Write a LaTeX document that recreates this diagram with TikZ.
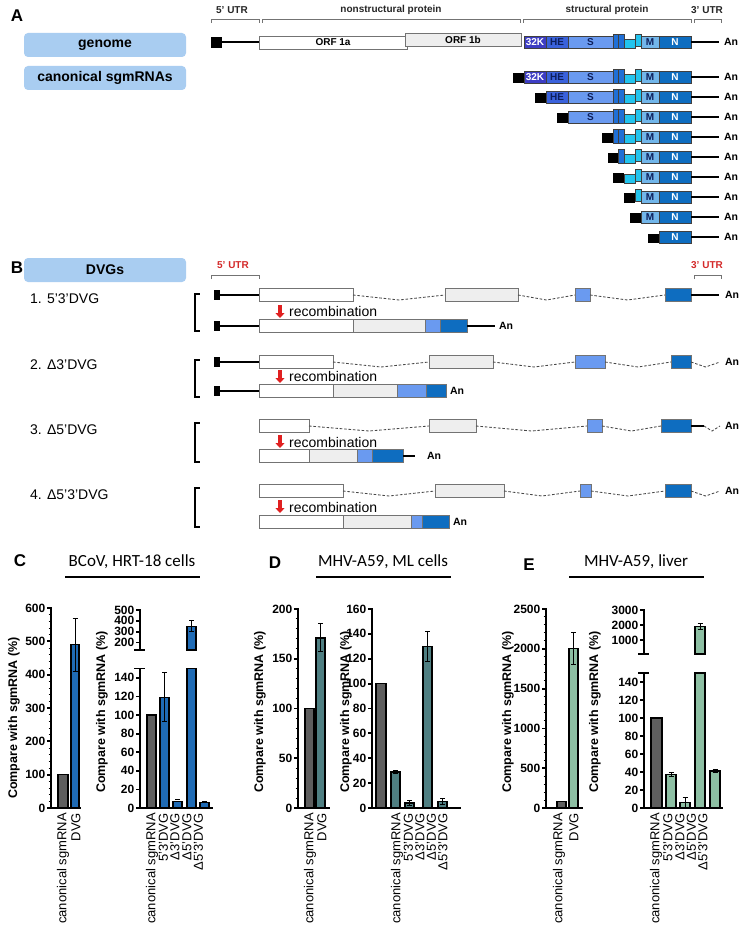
\documentclass[tikz,border=0pt]{standalone}
\usepackage{fontspec}
\setmainfont{Liberation Sans}
\newfontfamily\calfont{Carlito}
\usetikzlibrary{arrows.meta}
\definecolor{k32}{HTML}{3D3DC4}
\definecolor{kHE}{HTML}{3A62DC}
\definecolor{kS}{HTML}{6A9AF0}
\definecolor{kbar}{HTML}{1F6FD6}
\definecolor{kcy}{HTML}{22C4EE}
\definecolor{kM}{HTML}{72B6EA}
\definecolor{kN}{HTML}{0E6DC0}
\definecolor{knavy}{HTML}{0D1F5C}
\definecolor{kbox}{HTML}{A9CDF1}
\definecolor{kgrayfill}{HTML}{EEEEEE}
\definecolor{kred}{HTML}{E02020}
\definecolor{utrred}{HTML}{D42A2A}
\definecolor{barC}{HTML}{1F6BB5}
\definecolor{barD}{HTML}{4F7F82}
\definecolor{barE}{HTML}{8DBFA3}
\definecolor{barG}{HTML}{5E5E5E}

\newcommand\strow[2]{%
 \ifnum#2<2 \draw[gline,fill=k32] (524,#1-6) rectangle (546,#1+6); \node[gtxt,text=white] (k32-#1) at (535,#1) {32K};\fi
 \ifnum#2<3 \draw[gline,fill=kHE] (546,#1-6) rectangle (568,#1+6); \node[gtxt,text=knavy] (kHE-#1) at (557,#1) {HE};\fi
 \ifnum#2<4 \draw[gline,fill=kS] (568,#1-6) rectangle (613,#1+6); \node[gtxt,text=knavy] (kS-#1) at (590.5,#1) {S};\fi
 \ifnum#2<5 \draw[gline,fill=kbar] (613,#1-8) rectangle (618.5,#1+6);\fi
 \ifnum#2<6 \draw[gline,fill=kbar] (618.5,#1-8) rectangle (624,#1+6);\fi
 \ifnum#2<7 \draw[gline,fill=kcy] (624,#1-3) rectangle (635,#1+6);\fi
 \ifnum#2<8 \draw[gline,fill=kcy] (635,#1-8) rectangle (641,#1+4);\fi
 \ifnum#2<9 \draw[gline,fill=kM] (641,#1-6) rectangle (659,#1+6); \node[gtxt,text=knavy] (kM-#1) at (650,#1) {M};\fi
 \draw[gline,fill=kN] (659,#1-6) rectangle (691,#1+6); \node[gtxt,text=white] (kN-#1) at (675,#1) {N};
 \draw[rna] (691,#1) -- (719,#1);
 \node[antxt] (an-#1) at (731,#1) {An};
}
\newcommand\blk[3]{\fill (#1,#3-3.5) rectangle (#2,#3+6);}
\newcommand\dbox[4]{\draw[orfline,fill=#4] (#1,#3-6.5) rectangle (#2,#3+6.5);}
\newcommand\dvee[3]{\draw[dline] (#1,#3) -- ({(#1+#2)/2},#3+5) -- (#2,#3);}
\newcommand\fivecap[1]{\fill (214,#1-5) rectangle (220,#1+5); \draw[rna] (220,#1) -- (259,#1);}
\newcommand\lbrk[2]{\draw[line width=1.3pt] (199.5,#1) -- (195,#1) -- (195,#2) -- (199.5,#2);}
\newcommand\cbar[4]{\draw[barst,fill=#4] (#1,808) rectangle (#2,#3);}
\newcommand\errb[3]{\draw[eb] (#1,#2) -- (#1,#3); \draw[eb] (#1-2.5,#3) -- (#1+2.5,#3); \draw[eb] (#1-2.5,#2) -- (#1+2.5,#2);}

\begin{document}
\begin{tikzpicture}[x=1pt,y=-1pt,
 gline/.style={draw=black!75,line width=0.6pt},
 orfline/.style={draw=black!55,line width=0.7pt},
 rna/.style={line width=1.6pt},
 dline/.style={draw=black!72,line width=0.85pt,dash pattern=on 2.6pt off 1.8pt},
 gtxt/.style={font=\bfseries\fontsize{10}{10}\selectfont,inner sep=0pt},
 antxt/.style={font=\bfseries\fontsize{10.5}{10.5}\selectfont,inner sep=0pt},
 hdr/.style={font=\bfseries\fontsize{10}{10}\selectfont,inner sep=0pt,text=black!85},
 brk/.style={draw=black!55,line width=0.8pt},
 namebox/.style={fill=kbox,rounded corners=4pt,minimum width=162pt,minimum height=24pt,font=\bfseries\fontsize{14}{14}\selectfont,inner sep=0pt},
 panel/.style={font=\bfseries\fontsize{17}{17}\selectfont,inner sep=0pt},
 dvgl/.style={font=\fontsize{14}{14}\selectfont,inner sep=0pt,anchor=west},
 recarrow/.style={kred,line width=3.6pt,-{Triangle[width=9pt,length=5pt]}},
 ax/.style={line width=1.8pt},
 barst/.style={draw=black,line width=1.3pt},
 eb/.style={line width=1pt},
 tl/.style={font=\bfseries\fontsize{12}{12}\selectfont,inner sep=0pt,anchor=east},
 xl/.style={font=\fontsize{13}{13}\selectfont,inner sep=0pt,rotate=90,anchor=east},
 ylab/.style={font=\bfseries\fontsize{12.5}{12.5}\selectfont,inner sep=0pt,rotate=90},
 ttl/.style={font=\calfont\fontsize{17}{17}\selectfont,inner sep=0pt}]
\useasboundingbox (0,0) rectangle (744,941);
\fill[white] (0,0) rectangle (744,941);

%% ---------- Panel A ----------
\node[panel] (pA) at (17,16) {A};
\node[hdr] (h5) at (232,10) {5’ UTR};
\node[hdr] (hns) at (391,10) {nonstructural protein};
\node[hdr] (hs) at (607,10) {structural protein};
\node[hdr] (h3) at (707,10) {3’ UTR};
\draw[brk] (211,23) -- (211,19) -- (259,19) -- (259,23);
\draw[brk] (262,23) -- (262,19) -- (520,19) -- (520,23);
\draw[brk] (523,23) -- (523,19) -- (691,19) -- (691,23);
\draw[brk] (694,23) -- (694,19) -- (721,19) -- (721,23);

\node[namebox] (genome) at (105,45) {genome};
\node[namebox] (canon) at (105,78) {canonical sgmRNAs};

% genome
\fill (211,37) rectangle (222,48);
\draw[rna] (222,42) -- (259,42);
\draw[orfline,fill=white] (259,36) rectangle (407,49);
\node[gtxt] (orf1a) at (333,42.5) {ORF 1a};
\draw[orfline,fill=kgrayfill] (405,33) rectangle (521,46);
\node[gtxt] (orf1b) at (463,39.5) {ORF 1b};
\strow{42}{1}

% sgmRNAs
\blk{513}{524}{77}\strow{77}{1}
\blk{535}{546}{97}\strow{97}{2}
\blk{557}{568}{117}\strow{117}{3}
\blk{602}{613}{137}\strow{137}{4}
\blk{607.5}{618.5}{157}\strow{157}{5}
\blk{613}{624}{177}\strow{177}{6}
\blk{624}{635}{197}\strow{197}{7}
\blk{630}{641}{217}\strow{217}{8}
\blk{648}{659}{237}\strow{237}{9}

%% ---------- Panel B ----------
\node[panel] (pB) at (17,268) {B};
\node[namebox] (dvgs) at (105,270) {DVGs};
\node[hdr,text=utrred] (r5) at (233,265) {5’ UTR};
\node[hdr,text=utrred] (r3) at (707,265) {3’ UTR};
\draw[brk] (211,279) -- (211,275) -- (259,275) -- (259,279);
\draw[brk] (694,279) -- (694,275) -- (721,275) -- (721,279);

% DVG 1
\node[dvgl] (d1) at (30,299) {1. 5’3’DVG};
\lbrk{294}{331}
\fivecap{295}
\dbox{259}{353}{295}{white}\dvee{353}{445}{295}
\dbox{445}{518}{295}{kgrayfill}\dvee{518}{575}{295}
\dbox{575}{590}{295}{kS}\dvee{590}{665}{295}
\dbox{665}{691}{295}{kN}
\draw[rna] (691,295) -- (719,295);
\node[antxt] (a1t) at (732,295) {An};
\draw[recarrow] (280,305) -- (280,318);
\node[dvgl] (rec1) at (289,311.5) {recombination};
\fivecap{326}
\dbox{259}{353}{326}{white}\dbox{353}{425}{326}{kgrayfill}\dbox{425}{440}{326}{kS}\dbox{440}{467}{326}{kN}
\draw[rna] (467,326) -- (495,326);
\node[antxt] (a1b) at (506,326) {An};

% DVG 2
\node[dvgl] (d2) at (30,365) {2. Δ3’DVG};
\lbrk{360}{397}
\fivecap{362}
\dbox{259}{333}{362}{white}\dvee{333}{429}{362}
\dbox{429}{493}{362}{kgrayfill}\dvee{493}{575}{362}
\dbox{575}{605}{362}{kS}\dvee{605}{671}{362}
\dbox{671}{691}{362}{kN}\dvee{691}{720}{362}
\node[antxt] (a2t) at (732,362) {An};
\draw[recarrow] (280,370) -- (280,383);
\node[dvgl] (rec2) at (289,376.5) {recombination};
\fivecap{391}
\dbox{259}{333}{391}{white}\dbox{333}{397}{391}{kgrayfill}\dbox{397}{426}{391}{kS}\dbox{426}{446}{391}{kN}
\node[antxt] (a2b) at (457,391) {An};

% DVG 3
\node[dvgl] (d3) at (30,430) {3. Δ5’DVG};
\lbrk{423}{462}
\dbox{259}{309}{426}{white}\dvee{309}{429}{426}
\dbox{429}{476}{426}{kgrayfill}\dvee{476}{587}{426}
\dbox{587}{602}{426}{kS}\dvee{602}{661}{426}
\dbox{661}{691}{426}{kN}
\draw[rna] (691,426) -- (704,426);
\dvee{704}{720}{426}
\node[antxt] (a3t) at (732,426) {An};
\draw[recarrow] (280,435) -- (280,448);
\node[dvgl] (rec3) at (289,442) {recombination};
\dbox{259}{309}{456}{white}\dbox{309}{357}{456}{kgrayfill}\dbox{357}{372}{456}{kS}\dbox{372}{403}{456}{kN}
\draw[rna] (403,456) -- (415,456);
\node[antxt] (a3b) at (434,456) {An};

% DVG 4
\node[dvgl] (d4) at (30,495) {4. Δ5’3’DVG};
\lbrk{488}{527}
\dbox{259}{343}{491}{white}\dvee{343}{435}{491}
\dbox{435}{504}{491}{kgrayfill}\dvee{504}{580}{491}
\dbox{580}{591}{491}{kS}\dvee{591}{665}{491}
\dbox{665}{691}{491}{kN}\dvee{691}{720}{491}
\node[antxt] (a4t) at (732,491) {An};
\draw[recarrow] (280,500) -- (280,513);
\node[dvgl] (rec4) at (289,507) {recombination};
\dbox{259}{343}{521.5}{white}\dbox{343}{411}{521.5}{kgrayfill}\dbox{411}{422}{521.5}{kS}\dbox{422}{449}{521.5}{kN}
\node[antxt] (a4b) at (460,521.5) {An};

%% ---------- Panel C ----------
\node[panel] (pC) at (20,561) {C};
\node[ttl] (tC) at (132,562) {BCoV, HRT-18 cells};
\draw[line width=2pt] (65,577) -- (200,577);
% C1
\cbar{58}{68}{774.7}{barG}
\cbar{71}{79}{644.7}{barC}
\errb{75}{671.3}{618}
\foreach \v in {20,40,...,580}{\draw[line width=1pt] (48.5,808-\v/3) -- (51,808-\v/3);}
\foreach \v in {0,100,...,600}{\draw[ax] (47,808-\v/3) -- (51,808-\v/3); \node[tl] (c1t\v) at (45.5,808-\v/3) {\v};}
\draw[ax] (51,808.9) -- (51,607.1);
\draw[ax] (50.1,808) -- (81,808);
\node[ylab] (yC1) at (14,718) {Compare with sgmRNA (\%)};
\node[xl] (xC1a) at (63,813) {canonical sgmRNA};
\node[xl] (xC1b) at (76,813) {DVG};
% C2
\cbar{147}{156}{715}{barG}
\cbar{160}{169}{697.3}{barC}
\errb{164.5}{721.5}{672.2}
\cbar{173}{182}{801.5}{barC}
\draw[eb] (175,799.6) -- (180,799.6);
\draw[barst,fill=barC] (187,808) rectangle (196,668.5);
\draw[barst,fill=barC] (187,650) rectangle (196,626.2);
\errb{191.5}{631.6}{620.8}
\cbar{200}{209}{802.4}{barC}
\draw[eb] (202,801) -- (207,801);
\foreach \v in {0,20,...,140}{\draw[ax] (136,808-0.93*\v) -- (140,808-0.93*\v); \node[tl] (c2t\v) at (134.5,808-0.93*\v) {\v};}
\foreach \v in {200,300,400,500}{\draw[ax] (136,{650-0.108*(\v-130)}) -- (140,{650-0.108*(\v-130)}); \node[tl] (c2u\v) at (134.5,{650-0.108*(\v-130)}) {\v};}
\draw[ax] (140,808.9) -- (140,668.5);
\draw[ax] (134,668.5) -- (145,668.5);
\draw[ax] (140,650) -- (140,609);
\draw[ax] (134,650) -- (145,650);
\draw[ax] (139.1,808) -- (213,808);
\node[ylab] (yC2) at (102,712) {Compare with sgmRNA (\%)};
\node[xl] (xC2a) at (152,813) {canonical sgmRNA};
\node[xl] (xC2b) at (163.5,813) {5’3’DVG};
\node[xl] (xC2c) at (175,813) {Δ3’DVG};
\node[xl] (xC2d) at (187,813) {Δ5’DVG};
\node[xl] (xC2e) at (198.5,813) {Δ5’3’DVG};

%% ---------- Panel D ----------
\node[panel] (pD) at (275,563) {D};
\node[ttl] (tD) at (383,562) {MHV-A59, ML cells};
\draw[line width=2pt] (316,577) -- (451,577);
% D1
\cbar{305}{314}{708.5}{barG}
\cbar{316}{325}{637.9}{barD}
\errb{320.5}{651.8}{623.9}
\foreach \v in {10,20,...,190}{\draw[line width=1pt] (295.5,808-0.995*\v) -- (298,808-0.995*\v);}
\foreach \v in {0,50,...,200}{\draw[ax] (294,808-0.995*\v) -- (298,808-0.995*\v); \node[tl] (d1t\v) at (292.5,808-0.995*\v) {\v};}
\draw[ax] (298,808.9) -- (298,608);
\draw[ax] (297.1,808) -- (330,808);
\node[ylab] (yD1) at (260,712) {Compare with sgmRNA (\%)};
\node[xl] (xD1a) at (310,813) {canonical sgmRNA};
\node[xl] (xD1b) at (322,813) {DVG};
% D2
\cbar{376}{386}{683.6}{barG}
\cbar{391}{400}{771.9}{barD}
\errb{395.5}{773.2}{770.7}
\cbar{405}{414}{803}{barD}
\errb{409.5}{805}{800.5}
\cbar{423}{432}{646.3}{barD}
\errb{427.5}{661.2}{631.4}
\cbar{438}{447}{801.8}{barD}
\errb{442.5}{804.3}{798}
\foreach \v in {0,20,...,160}{\draw[ax] (368,808-1.244*\v) -- (372,808-1.244*\v); \node[tl] (d2t\v) at (366.5,808-1.244*\v) {\v};}
\draw[ax] (372,808.9) -- (372,608);
\draw[ax] (371.1,808) -- (461,808);
\node[ylab] (yD2) at (346,712) {Compare with sgmRNA (\%)};
\node[xl] (xD2a) at (397,813) {canonical sgmRNA};
\node[xl] (xD2b) at (408.5,813) {5’3’DVG};
\node[xl] (xD2c) at (420,813) {Δ3’DVG};
\node[xl] (xD2d) at (431.5,813) {Δ5’DVG};
\node[xl] (xD2e) at (443,813) {Δ5’3’DVG};

%% ---------- Panel E ----------
\node[panel] (pE) at (529,565) {E};
\node[ttl] (tE) at (636,562) {MHV-A59, liver};
\draw[line width=2pt] (569,577) -- (704,577);
% E1
\cbar{557}{566}{801.6}{barG}
\cbar{569}{578}{648.8}{barE}
\errb{573.5}{664.7}{632.9}
\foreach \v in {100,200,...,2400}{\draw[line width=1pt] (543.5,808-0.0796*\v) -- (546,808-0.0796*\v);}
\foreach \v in {0,500,...,2500}{\draw[ax] (542,808-0.0796*\v) -- (546,808-0.0796*\v); \node[tl] (e1t\v) at (540.5,808-0.0796*\v) {\v};}
\draw[ax] (546,808.9) -- (546,608);
\draw[ax] (545.1,808) -- (583,808);
\node[ylab] (yE1) at (508,712) {Compare with sgmRNA (\%)};
\node[xl] (xE1a) at (559,813) {canonical sgmRNA};
\node[xl] (xE1b) at (574,813) {DVG};
% E2
\cbar{651}{662}{718}{barG}
\cbar{666}{676}{774.7}{barE}
\errb{671}{776.5}{772.9}
\cbar{680}{690}{802.6}{barE}
\errb{685}{808}{797.2}
\draw[barst,fill=barE] (695,808) rectangle (705,673);
\draw[barst,fill=barE] (695,654) rectangle (705,626.5);
\errb{700}{629.5}{623.5}
\cbar{710}{720}{771.1}{barE}
\errb{715}{772.9}{769.3}
\foreach \v in {0,20,...,140}{\draw[ax] (640,808-0.9*\v) -- (644,808-0.9*\v); \node[tl] (e2t\v) at (638.5,808-0.9*\v) {\v};}
\foreach \v in {1000,2000,3000}{\draw[ax] (640,655-0.015*\v) -- (644,655-0.015*\v); \node[tl] (e2u\v) at (638.5,655-0.015*\v) {\v};}
\draw[ax] (644,808.9) -- (644,673);
\draw[ax] (638,673) -- (649,673);
\draw[ax] (644,654) -- (644,609);
\draw[ax] (638,654) -- (649,654);
\draw[ax] (643.1,808) -- (723,808);
\node[ylab] (yE2) at (595,712) {Compare with sgmRNA (\%)};
\node[xl] (xE2a) at (656,813) {canonical sgmRNA};
\node[xl] (xE2b) at (668,813) {5’3’DVG};
\node[xl] (xE2c) at (680,813) {Δ3’DVG};
\node[xl] (xE2d) at (691.5,813) {Δ5’DVG};
\node[xl] (xE2e) at (703,813) {Δ5’3’DVG};
\end{tikzpicture}
\end{document}
